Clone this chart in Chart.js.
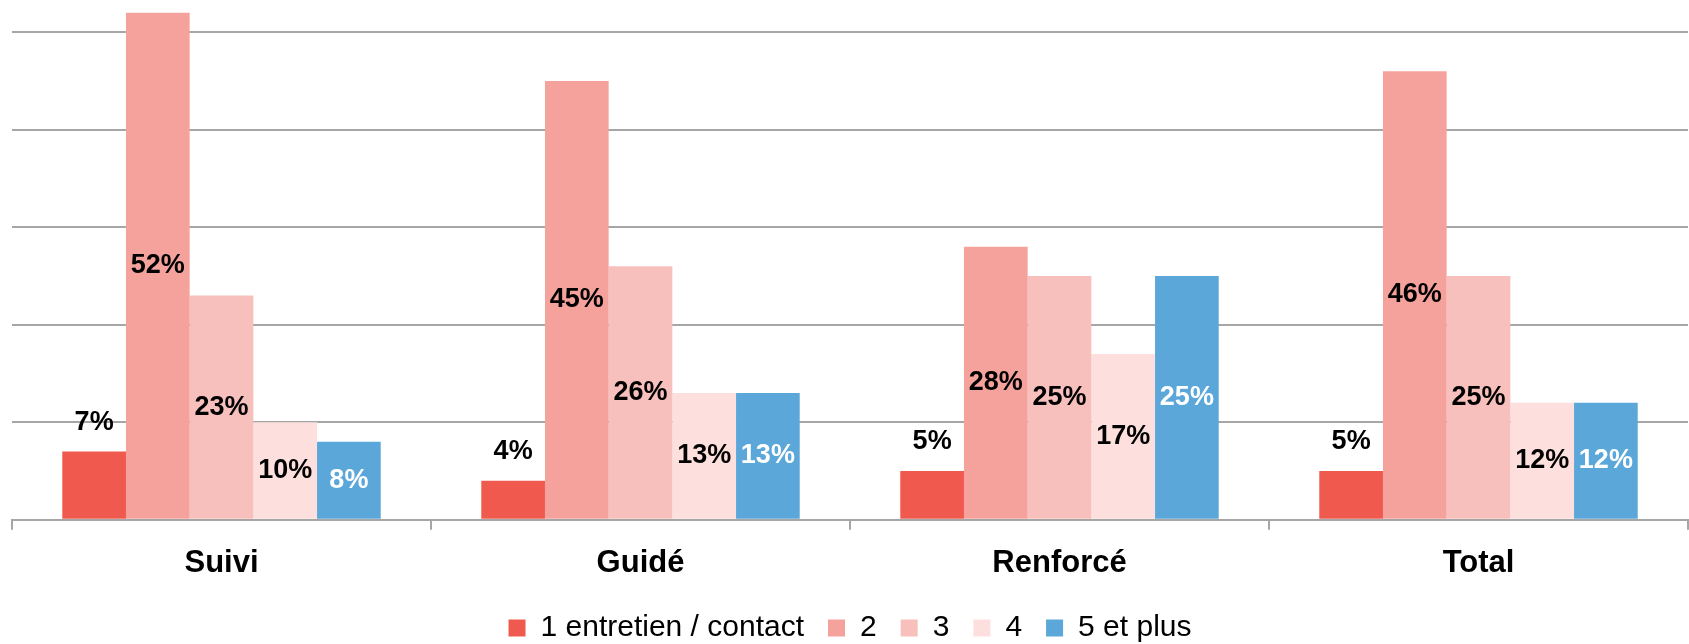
<!DOCTYPE html>
<html>
<head>
<meta charset="utf-8">
<script src="https://cdn.jsdelivr.net/npm/chart.js@4/dist/chart.umd.min.js"></script>
<style>
  html, body { margin: 0; padding: 0; background: #fff; }
</style>
</head>
<body>
<canvas id="chart" width="1689" height="644"></canvas>
<script>
const categories = ["Suivi", "Guidé", "Renforcé", "Total"];
const seriesNames = ["1 entretien / contact", "2", "3", "4", "5 et plus"];
const unEntretien = [7, 4, 5, 5];
const deux = [52, 45, 28, 46];
const trois = [23, 26, 25, 25];
const quatre = [10, 13, 17, 12];
const cinqEtPlus = [8, 13, 25, 12];
const seriesColors = ["#f05a4e", "#f4a29b", "#f8c0bc", "#fde0de", "#5ba7da"];
const labelColors = ["#000", "#000", "#000", "#000", "#fff"];

const allValues = [unEntretien, deux, trois, quatre, cinqEtPlus];

// étiquettes de valeur : au-dessus pour la 1re série, au centre pour les autres
const valueLabels = {
    id: "valueLabels",
    afterDatasetsDraw(chart) {
        const ctx = chart.ctx;
        ctx.save();
        ctx.font = "bold 27px 'Liberation Sans', Arial, sans-serif";
        ctx.textAlign = "center";
        ctx.textBaseline = "middle";
        chart.data.datasets.forEach((ds, i) => {
            const meta = chart.getDatasetMeta(i);
            meta.data.forEach((bar, j) => {
                const v = ds.data[j];
                let y;
                if (i === 0) {
                    y = bar.y - 29;
                } else {
                    y = (bar.y + bar.base) / 2;
                }
                ctx.fillStyle = labelColors[i];
                ctx.fillText(v + "%", bar.x, y);
            });
        });
        ctx.restore();
    },
};

new Chart(document.getElementById("chart").getContext("2d"), {
    type: "bar",
    data: {
        labels: categories,
        datasets: allValues.map((vals, i) => ({
            label: seriesNames[i],
            data: vals,
            backgroundColor: seriesColors[i],
            borderWidth: 0,
            categoryPercentage: 0.76,
            barPercentage: 1,
        })),
    },
    options: {
        responsive: false,
        animation: false,
        layout: { padding: { left: 12, right: 1, top: 0, bottom: -9 } },
        plugins: {
            legend: {
                position: "bottom",
                labels: {
                    color: "#000",
                    font: { family: "'Liberation Sans', Arial, sans-serif", size: 30 },
                    boxWidth: 17,
                    boxHeight: 17,
                    padding: 24,
                },
            },
            tooltip: { enabled: false },
        },
        scales: {
            x: {
                offset: true,
                afterFit: (scale) => {
                    scale.height -= 8;
                },
                grid: {
                    display: true,
                    drawOnChartArea: false,
                    drawTicks: true,
                    tickLength: 10,
                    color: "#a6a6a6",
                    lineWidth: 2,
                    offset: true,
                },
                border: { display: true, color: "#a6a6a6", width: 2 },
                ticks: {
                    color: "#000",
                    font: { family: "'Liberation Sans', Arial, sans-serif", size: 31, weight: "bold" },
                    padding: 15,
                },
            },
            y: {
                min: 0,
                max: 53.3,
                grid: {
                    color: (c) => (c.tick && c.tick.value % 10 === 0 && c.tick.value > 0 ? "#a6a6a6" : "rgba(0,0,0,0)"),
                    lineWidth: 2,
                    drawTicks: false,
                },
                border: { display: false },
                ticks: { display: false, stepSize: 10 },
            },
        },
    },
    plugins: [valueLabels],
});
</script>
</body>
</html>
